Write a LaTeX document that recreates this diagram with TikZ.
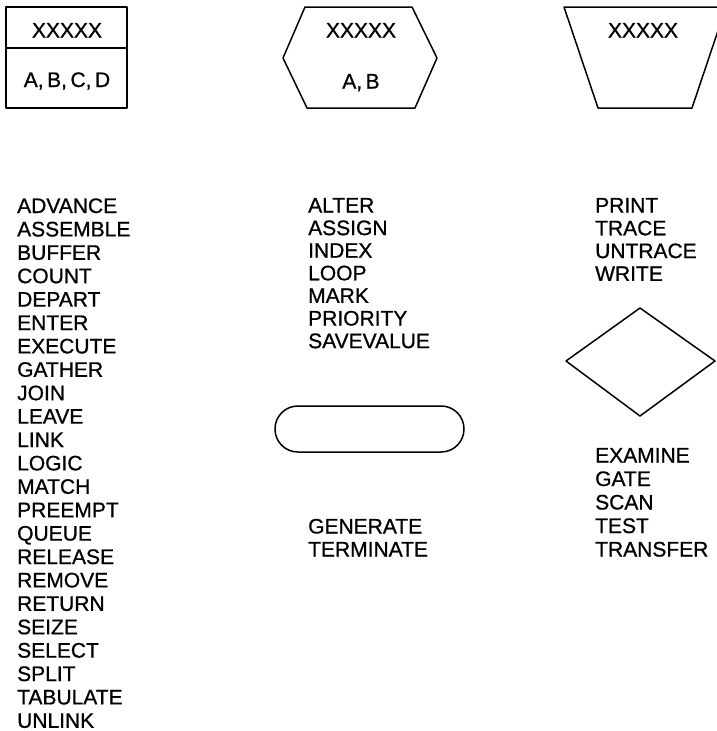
\documentclass[tikz,border=0pt]{standalone}
\usepackage{fontspec}
\setmainfont{Liberation Sans}[FakeBold=0.8]

\begin{document}
\begin{tikzpicture}[x=1pt,y={(0pt,-1pt)},
  outline/.style={draw,line width=1.5pt,line join=round},
  word/.style={anchor=base west,inner sep=0pt,font=\fontsize{21}{23}\selectfont},
  inside/.style={anchor=base,inner sep=0pt,font=\fontsize{21}{23}\selectfont}]
\useasboundingbox (0,0) rectangle (716,731);

% symbols
\draw[outline] (6,7) rectangle (127,108);
\draw[outline] (6,48) -- (127,48);
\node[inside] (boxname) at (67,37.5) {XXXXX};
\node[inside] (boxargs) at (67,87) {A,\,B,\,C,\,D};

\draw[outline] (305,7) -- (412,7) -- (437,58) -- (415,108) -- (307,108) -- (283,58) -- cycle;
\node[inside] (hexname) at (361,37.5) {XXXXX};
\node[inside] (hexargs) at (361,88.5) {A,\,B};

\draw[outline] (564,7) -- (726,7) -- (692,108) -- (598,108) -- cycle;
\node[inside] (trapname) at (643,37.5) {XXXXX};

\draw[outline,rounded corners=22.9pt] (275,406) rectangle (464,452);
\draw[outline] (640,308) -- (715,361) -- (640,416) -- (566,361) -- cycle;

% block names
\foreach \w [count=\i from 0] in {ADVANCE,ASSEMBLE,BUFFER,COUNT,DEPART,ENTER,EXECUTE,GATHER,JOIN,LEAVE,LINK,LOGIC,MATCH,PREEMPT,QUEUE,RELEASE,REMOVE,RETURN,SEIZE,SELECT,SPLIT,TABULATE,UNLINK}
  \node[word] (box\i) at (17,{213+23.4*\i}) {\w};
\foreach \w [count=\i from 0] in {ALTER,ASSIGN,INDEX,LOOP,MARK,PRIORITY,SAVEVALUE}
  \node[word] (hex\i) at (308,{212.5+22.6*\i}) {\w};
\foreach \w [count=\i from 0] in {GENERATE,TERMINATE}
  \node[word] (oval\i) at (308,{533.5+23*\i}) {\w};
\foreach \w [count=\i from 0] in {PRINT,TRACE,UNTRACE,WRITE}
  \node[word] (trap\i) at (595,{212.5+22.8*\i}) {\w};
\foreach \w [count=\i from 0] in {EXAMINE,GATE,SCAN,TEST,TRANSFER}
  \node[word] (dia\i) at (595,{462.5+23.5*\i}) {\w};
\end{tikzpicture}
\end{document}
